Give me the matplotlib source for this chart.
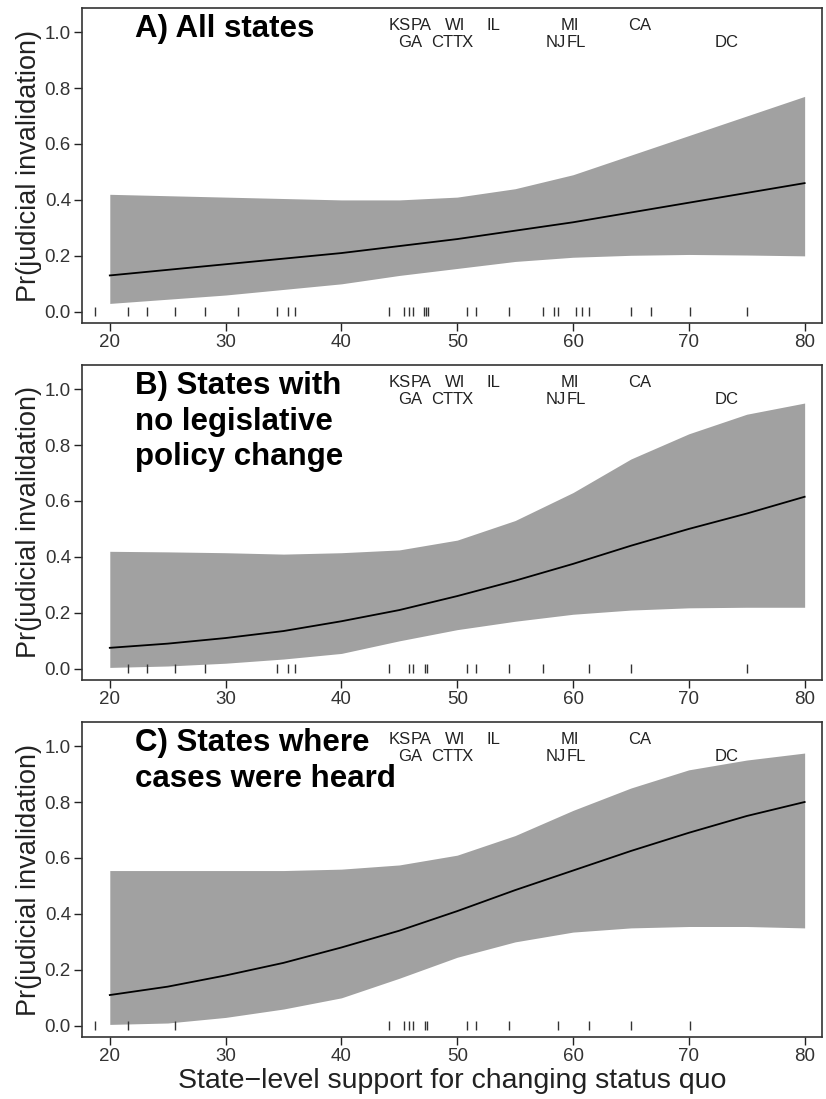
import matplotlib
matplotlib.use("Agg")
import matplotlib.pyplot as plt

plt.rcParams['font.family'] = ['Liberation Sans', 'DejaVu Sans']

# x grid
support = [20, 25, 30, 35, 40, 45, 50, 55, 60, 65, 70, 75, 80]

# Panel A: All states
a_mean  = [0.13, 0.15, 0.17, 0.19, 0.21, 0.235, 0.26, 0.29, 0.32, 0.355, 0.39, 0.425, 0.46]
a_lower = [0.03, 0.045, 0.06, 0.08, 0.10, 0.13, 0.155, 0.18, 0.195, 0.202, 0.205, 0.203, 0.20]
a_upper = [0.42, 0.415, 0.41, 0.405, 0.40, 0.40, 0.41, 0.44, 0.49, 0.56, 0.63, 0.70, 0.77]

# Panel B: no legislative policy change
b_mean  = [0.075, 0.09, 0.11, 0.135, 0.17, 0.21, 0.26, 0.315, 0.375, 0.44, 0.50, 0.555, 0.615]
b_lower = [0.005, 0.01, 0.02, 0.035, 0.055, 0.10, 0.14, 0.17, 0.195, 0.21, 0.218, 0.22, 0.22]
b_upper = [0.42, 0.418, 0.415, 0.41, 0.415, 0.425, 0.46, 0.53, 0.63, 0.75, 0.84, 0.91, 0.95]

# Panel C: cases were heard
c_mean  = [0.11, 0.14, 0.18, 0.225, 0.28, 0.34, 0.41, 0.485, 0.555, 0.625, 0.69, 0.75, 0.80]
c_lower = [0.005, 0.01, 0.03, 0.06, 0.10, 0.17, 0.245, 0.30, 0.335, 0.35, 0.355, 0.355, 0.35]
c_upper = [0.555, 0.555, 0.555, 0.555, 0.56, 0.575, 0.61, 0.68, 0.77, 0.85, 0.915, 0.95, 0.975]

# Rug (observed state support values)
rug_a = [18.75, 21.6, 23.2, 25.6, 28.2, 31.1, 34.4, 35.4, 36.0, 44.1, 45.4, 45.8, 46.2,
         47.1, 47.3, 47.5, 50.85, 51.6, 54.5, 57.4, 58.4, 58.7, 60.3, 60.8, 61.4,
         65.0, 66.7, 70.1, 75.0]
rug_b = [21.6, 23.2, 25.6, 28.2, 34.4, 35.4, 36.0, 44.1, 45.8, 46.2, 47.2, 47.4,
         50.85, 51.6, 54.5, 57.4, 61.4, 65.0, 75.0]
rug_c = [18.75, 21.6, 25.6, 44.1, 45.4, 45.8, 46.2, 47.2, 47.4, 50.85, 51.6, 54.5,
         58.7, 61.4, 65.0, 70.1]

# State labels
top_states = ["KS", "PA", "WI", "IL", "MI", "CA"]
top_pos = [45.0, 46.85, 49.8, 53.1, 59.7, 65.8]
bot_states = ["GA", "CT", "TX", "NJ", "FL", "DC"]
bot_pos = [45.9, 48.7, 50.5, 58.5, 60.3, 73.3]

titles = [["A) All states"],
          ["B) States with", "no legislative", "policy change"],
          ["C) States where", "cases were heard"]]
yticks = [0.0, 0.2, 0.4, 0.6, 0.8, 1.0]
xticks = [20, 30, 40, 50, 60, 70, 80]

panels = [(a_mean, a_lower, a_upper, rug_a),
          (b_mean, b_lower, b_upper, rug_b),
          (c_mean, c_lower, c_upper, rug_c)]

W, H = 826, 1099
fig = plt.figure(figsize=(W / 100, H / 100), dpi=100)
left, right = 82, 822
tops = [8, 365, 722]
ph = 315

for i, (mean, lo, up, rug) in enumerate(panels):
    top = tops[i]
    ax = fig.add_axes([left / W, 1 - (top + ph) / H, (right - left) / W, ph / H])
    ax.fill_between(support, lo, up, color='#a1a1a1', linewidth=0)
    ax.plot(support, mean, color='black', linewidth=1.3)
    ax.vlines(rug, -0.016, 0.016, color='#333333', linewidth=1.0)
    ax.set_xlim(17.6, 81.5)
    ax.set_ylim(-0.04, 1.086)
    ax.set_yticks(yticks)
    ax.set_yticklabels([f"{v:.1f}" for v in yticks])
    ax.set_xticks(xticks)
    ax.tick_params(direction='out', length=6, width=1.0, labelsize=13.5, colors='#222222',
                   labelcolor='#333333', pad=2)
    for s in ax.spines.values():
        s.set_linewidth(1.2)
        s.set_color('#333333')
    ax.set_ylabel("Pr(judicial invalidation)", fontsize=19.5, color='#222222', labelpad=2)
    for name, p in zip(top_states, top_pos):
        ax.text(p, 1.025, name, ha='center', va='center', fontsize=12, color='#222222')
    for name, p in zip(bot_states, bot_pos):
        ax.text(p, 0.962, name, ha='center', va='center', fontsize=12, color='#222222')
    for k, line in enumerate(titles[i]):
        ax.text(22.2, 1.065 - k * 0.128, line, ha='left', va='top', fontsize=22.5,
                fontweight='bold', color='black')
    if i == 2:
        ax.set_xlabel("State\u2212level support for changing status quo", fontsize=20.5,
                      color='#222222', labelpad=2)

fig.savefig("out.png", dpi=100, facecolor='white')
